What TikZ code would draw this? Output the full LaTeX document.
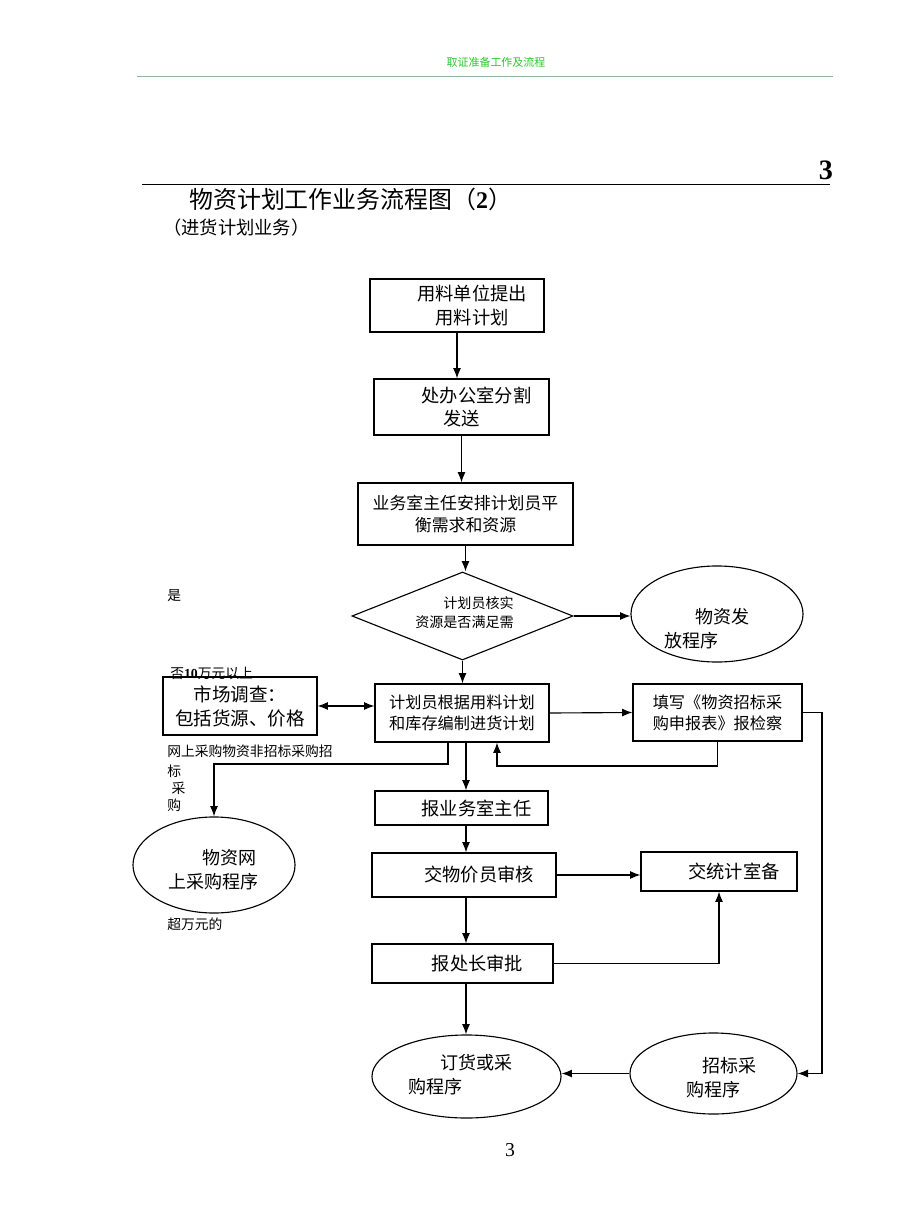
\documentclass[tikz,border=0pt]{standalone}
\usepackage{fontspec}
\setmainfont{Liberation Serif}
\newfontfamily\cjk{Noto Sans CJK SC}
\usetikzlibrary{shapes.geometric}
\usetikzlibrary{arrows.meta}

\definecolor{hdrgreen}{RGB}{40,200,40}
\definecolor{hdrline}{RGB}{150,180,150}
\newcommand{\tpad}{\hspace*{0.75cm}}

\begin{document}
\begin{tikzpicture}[x=0.025cm, y=-0.025cm,
    box/.style={draw, line width=0.8pt, inner sep=0pt, align=center,
        font=\cjk\fontsize{13}{17}\selectfont},
    decision/.style={diamond, draw, line width=0.8pt, inner sep=0pt},
    oval/.style={ellipse, draw, line width=0.8pt, inner sep=0pt},
    txt/.style={inner sep=0pt, align=left, font=\cjk\fontsize{12.8}{17}\selectfont},
    note/.style={inner sep=0pt, anchor=west, align=left,
        font=\cjk\fontsize{9.8}{12}\selectfont},
    flow/.style={line width=0.8pt, >={Latex[length=2.6mm,width=2mm]}, ->}]

    \useasboundingbox (0,0) rectangle (920,1227);

    % page head
    \node[font=\cjk\fontsize{7.8}{9}\selectfont, text=hdrgreen] (hdr) at (496,62) {取证准备工作及流程};
    \draw[hdrline, line width=0.6pt] (137,76) -- (833,76);
    \node[font=\fontsize{20}{22}\selectfont\bfseries] (pg) at (826,170) {3};
    \draw[line width=0.6pt] (142,184) -- (830,184);
    \node[anchor=west, inner sep=0pt, font=\cjk\fontsize{17}{20}\selectfont] (title) at (189,199)
        {物资计划工作业务流程图（{\rmfamily\bfseries 2}）};
    \node[anchor=west, inner sep=0pt, font=\cjk\fontsize{13}{15}\selectfont] (subtitle) at (163,228)
        {（进货计划业务）};

    % main column
    \node[box, minimum width=4.35cm, minimum height=1.325cm] (b1) at (457,305.5)
        {\tpad 用料单位提出\\\tpad 用料计划};
    \node[box, minimum width=4.375cm, minimum height=1.4cm] (b2) at (461.5,407)
        {\tpad 处办公室分割\\发送};
    \node[box, minimum width=5.375cm, minimum height=1.55cm,
        font=\cjk\fontsize{12}{15.6}\selectfont] (b3) at (465.5,514)
        {业务室主任安排计划员平\\衡需求和资源};
    \node[decision, minimum width=5.525cm, minimum height=2.2cm] (chk) at (462.5,616) {};
    \node[txt, align=right, font=\cjk\fontsize{10}{13.5}\selectfont] (chktxt) at (464.5,612.5)
        {计划员核实\\资源是否满足需};
    \node[oval, minimum width=4.3cm, minimum height=2.4cm] (fa) at (717,614) {};
    \node[txt] (fatxt) at (707,629) {\hspace*{1.7em}物资发\\放程序};

    \node[box, minimum width=4.35cm, minimum height=1.45cm,
        font=\cjk\fontsize{11.5}{15}\selectfont] (b4) at (462,713)
        {计划员根据用料计划\\和库存编制进货计划};
    \node[box, minimum width=3.85cm, minimum height=1.45cm,
        font=\cjk\fontsize{13.2}{17}\selectfont] (b5) at (240,706)
        {市场调查：\\包括货源、价格};
    \node[box, minimum width=4.225cm, minimum height=1.425cm,
        font=\cjk\fontsize{11.5}{15}\selectfont] (b6) at (717.5,712.5)
        {填写《物资招标采\\购申报表》报检察};
    \node[oval, minimum width=4.05cm, minimum height=2.4cm] (wang) at (214,865) {};
    \node[txt] (wangtxt) at (213.5,870) {\hspace*{1.9em}物资网\\上采购程序};

    \node[box, minimum width=4.325cm, minimum height=0.85cm] (b7) at (461.5,808) {\tpad 报业务室主任};
    \node[box, minimum width=4.6cm, minimum height=1.1cm] (b8) at (464,875) {\tpad 交物价员审核};
    \node[box, minimum width=3.9cm, minimum height=0.975cm] (b9) at (719,871.5) {\tpad 交统计室备};
    \node[box, minimum width=4.525cm, minimum height=0.975cm] (b10) at (462.5,963.5) {\tpad 报处长审批};

    \node[oval, minimum width=4.725cm, minimum height=2.075cm] (order) at (466.5,1076.5) {};
    \node[txt] (ordertxt) at (460.5,1075) {\hspace*{1.75em}订货或采\\购程序};
    \node[oval, minimum width=4.175cm, minimum height=2.025cm] (bid) at (713.5,1073.5) {};
    \node[txt] (bidtxt) at (721.5,1078) {\hspace*{0.9em}招标采\\购程序};

    % side notes
    \node[note] (yes) at (167,596) {是};
    \node[note] (no) at (170,673) {否{\rmfamily\bfseries 10}万元以上};
    \node[note] (web) at (167,751) {网上采购物资非招标采购招};
    \node[note, anchor=north west] (webb) at (167,765) {标\\\hspace*{3pt}采\\购};
    \node[note] (over) at (167,924) {超万元的};

    % connectors
    \draw[flow] (b1.south) -- (b1.south |- b2.north);
    \draw[flow] (b2.south) -- (b2.south |- b3.north);
    \draw[flow] (b3.south) -- (b3.south |- chk.north);
    \draw[flow] (chk.east) -- (chk.east -| fa.west);
    \draw[flow] (chk.south) -- (chk.south |- b4.north);
    \draw[flow, <->] (b5.east) -- (b5.east -| b4.west);
    \draw[flow] (b4.east) -- (b6.west);
    \coordinate (back) at (497,766);
    \draw[flow] (b6.south) |- (back) -- (back |- b4.south);
    \coordinate (side) at (822,708);
    \draw[flow] (b6.east) -- (b6.east -| side) |- (bid.east);
    \coordinate (webturn) at (448,764);
    \draw[flow] (webturn |- b4.south) -- (webturn) -| (wang.north);
    \coordinate (down) at (466,742);
    \draw[flow] (down |- b4.south) -- (down |- b7.north);
    \draw[flow] (down |- b7.south) -- (down |- b8.north);
    \draw[flow] (b8.east) -- (b8.east -| b9.west);
    \draw[flow] (down |- b8.south) -- (down |- b10.north);
    \draw[flow] (b10.east) -| (b9.south);
    \draw[flow] (down |- b10.south) -- (down |- order.north);
    \draw[flow] (bid.west) -- (bid.west -| order.east);

    \node[font=\fontsize{14}{16}\selectfont] (pgnum) at (510,1150) {3};
\end{tikzpicture}
\end{document}
